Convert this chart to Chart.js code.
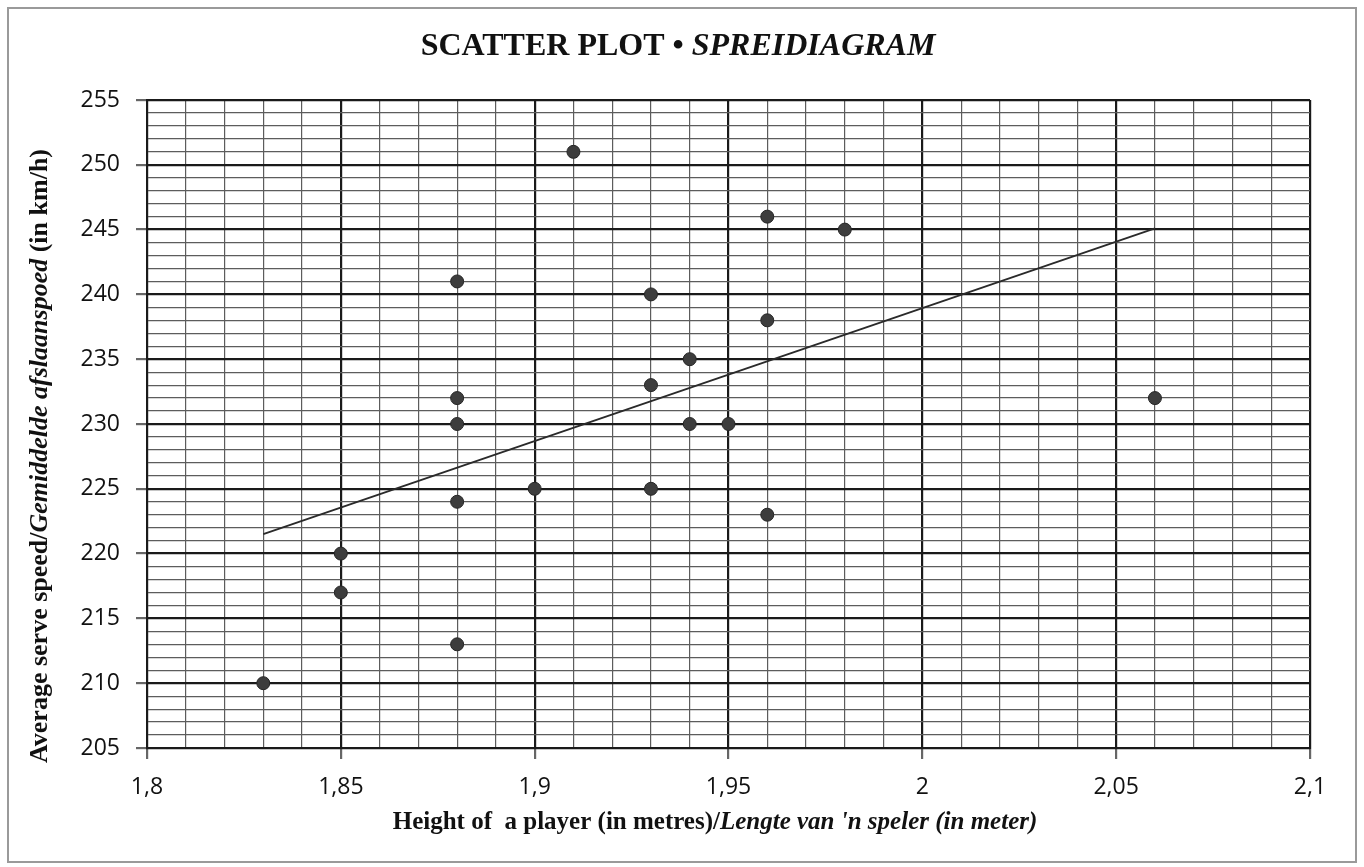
<!DOCTYPE html>
<html>
<head>
<meta charset="utf-8">
<script src="https://cdn.jsdelivr.net/npm/chart.js@4.4.1/dist/chart.umd.min.js"></script>
<style>
  body { margin: 0; background: #fff; }
  #wrap { width: 1364px; height: 867px; }
</style>
</head>
<body>
<div id="wrap"><canvas id="chart" width="1364" height="867"></canvas></div>
<script>
// player heights (m) and average serve speeds (km/h)
var heights = [1.83, 1.85, 1.85, 1.88, 1.88, 1.88, 1.88, 1.88, 1.90, 1.91,
               1.93, 1.93, 1.93, 1.94, 1.94, 1.95, 1.96, 1.96, 1.96, 1.98, 2.06];
var speeds  = [210, 220, 217, 241, 232, 230, 224, 213, 225, 251,
               240, 233, 225, 235, 230, 230, 246, 238, 223, 245, 232];

// trend line end points
var trendX = [1.83, 2.06];
var trendY = [221.5, 245.1];

// axis ranges
var xRange = [1.8, 2.1];
var yRange = [205, 255];

var serif = '"Liberation Serif", "Times New Roman", serif';
var sans = '"Open Sans", Lato, sans-serif';

function toPoints(xs, ys) {
    return xs.map(function (x, i) { return {x: x, y: ys[i]}; });
}

function isMajorX(v) { return Math.round(v * 100) % 5 === 0; }
function isMajorY(v) { return Math.round(v) % 5 === 0; }

function fmtX(v) {
    var s = (Math.round(v * 100) / 100).toString();
    return s.replace('.', ',');
}

// draws text made of normal and italic parts, centred on (cx, cy)
function drawMixed(ctx, parts, cx, cy, size) {
    var total = 0;
    parts.forEach(function (p) {
        ctx.font = (p.i ? 'italic ' : '') + 'bold ' + size + 'px ' + serif;
        p.w = ctx.measureText(p.t).width;
        total += p.w;
    });
    var x = cx - total / 2;
    ctx.textBaseline = 'middle';
    ctx.textAlign = 'left';
    parts.forEach(function (p) {
        ctx.font = (p.i ? 'italic ' : '') + 'bold ' + size + 'px ' + serif;
        ctx.fillText(p.t, x, cy);
        x += p.w;
    });
}

var textPlugin = {
    id: 'texts',
    beforeDraw: function (chart) {
        var ctx = chart.ctx;
        ctx.save();
        ctx.strokeStyle = '#9a9a9a';
        ctx.lineWidth = 2;
        ctx.strokeRect(8, 8, 1348, 854);
        ctx.restore();
    },
    afterDraw: function (chart) {
        var ctx = chart.ctx;
        ctx.save();
        ctx.fillStyle = '#111';
        drawMixed(ctx, [{t: 'SCATTER PLOT \u2022 '}, {t: 'SPREIDIAGRAM', i: true}], 678, 47, 32);
        drawMixed(ctx, [{t: 'Height of  a player (in metres)/'},
                        {t: 'Lengte van \'n speler (in meter)', i: true}], 715, 823, 25);
        ctx.translate(40, 456);
        ctx.rotate(-Math.PI / 2);
        drawMixed(ctx, [{t: 'Average serve speed/'}, {t: 'Gemiddelde afslaanspoed', i: true},
                        {t: ' (in km/h)'}], 0, 0, 26);
        ctx.restore();
    }
};

var ctx = document.getElementById('chart').getContext('2d');

new Chart(ctx, {
    type: 'scatter',
    data: {
        datasets: [
            {
                data: toPoints(heights, speeds),
                backgroundColor: '#3d3d3d',
                borderColor: '#262626',
                borderWidth: 1,
                pointRadius: 6.5
            },
            {
                data: toPoints(trendX, trendY),
                showLine: true,
                borderColor: '#2a2a2a',
                borderWidth: 1.8,
                pointRadius: 0
            }
        ]
    },
    options: {
        responsive: false,
        animation: false,
        layout: {padding: {left: 0, top: 100, right: 54, bottom: 0}},
        plugins: {
            legend: {display: false},
            tooltip: {enabled: false}
        },
        scales: {
            x: {
                type: 'linear',
                min: xRange[0],
                max: xRange[1],
                afterFit: function (s) { s.height = 119; },
                border: {display: true, color: '#1a1a1a', width: 2},
                grid: {
                    color: function (c) { return isMajorX(c.tick.value) ? '#1a1a1a' : '#5c5c5c'; },
                    lineWidth: function (c) { return isMajorX(c.tick.value) ? 2.2 : 1.2; },
                    tickColor: function (c) { return isMajorX(c.tick.value) ? '#666' : 'rgba(0,0,0,0)'; },
                    tickLength: 11
                },
                ticks: {
                    stepSize: 0.01,
                    maxTicksLimit: 200,
                    autoSkip: false,
                    maxRotation: 0,
                    padding: 15,
                    color: '#111',
                    font: {family: sans, size: 23},
                    callback: function (v) { return isMajorX(v) ? fmtX(v) : ''; }
                }
            },
            y: {
                min: yRange[0],
                max: yRange[1],
                afterFit: function (s) { s.width = 147; },
                border: {display: true, color: '#1a1a1a', width: 2},
                grid: {
                    color: function (c) { return isMajorY(c.tick.value) ? '#1a1a1a' : '#5c5c5c'; },
                    lineWidth: function (c) { return isMajorY(c.tick.value) ? 2.2 : 1.2; },
                    tickColor: function (c) { return isMajorY(c.tick.value) ? '#666' : 'rgba(0,0,0,0)'; },
                    tickLength: 11
                },
                ticks: {
                    stepSize: 1,
                    maxTicksLimit: 200,
                    autoSkip: false,
                    padding: 16,
                    color: '#111',
                    font: {family: sans, size: 23},
                    callback: function (v) { return isMajorY(v) ? String(v) : ''; }
                }
            }
        }
    },
    plugins: [textPlugin]
});
</script>
</body>
</html>
